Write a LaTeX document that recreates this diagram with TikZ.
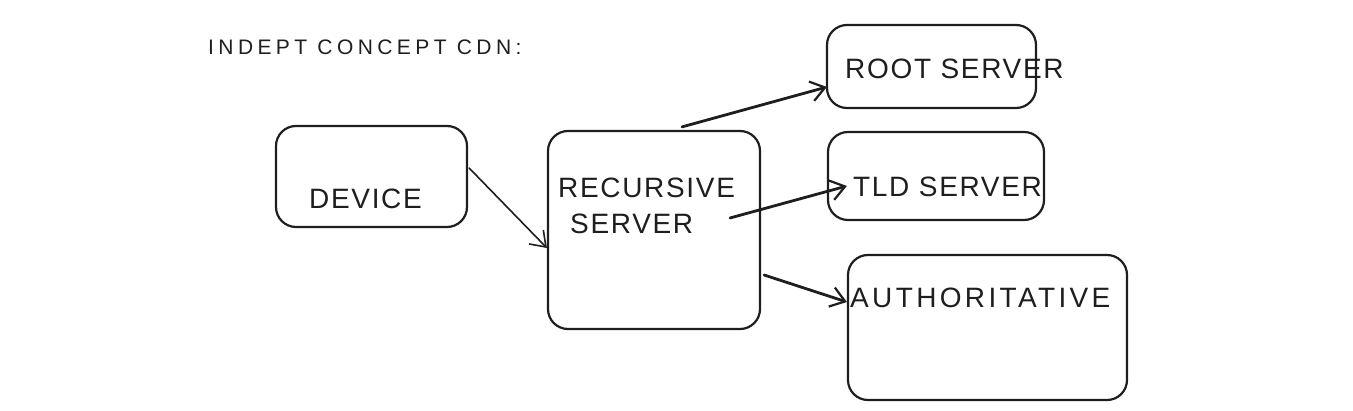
\documentclass[tikz,border=0pt]{standalone}
\usepackage{fontspec}
\setmainfont{Liberation Sans}
\newfontfamily\lblfont[LetterSpace=6]{Liberation Sans}
\newfontfamily\widelblfont[LetterSpace=12]{Liberation Sans}
\newfontfamily\ttlfont[LetterSpace=21]{Liberation Sans}
\usetikzlibrary{arrows.meta,calc}
\definecolor{ink}{HTML}{1E1E1E}
\tikzset{
  box/.style={draw=ink, line width=2.2pt, rounded corners=20pt, inner sep=0pt},
  lbl/.style={inner sep=0pt, text=ink, font=\lblfont\fontsize{28}{30}\selectfont, text height=20pt, text depth=0pt, anchor=west},
  widelbl/.style={lbl, font=\widelblfont\fontsize{28}{30}\selectfont},
  ttl/.style={inner sep=0pt, text=ink, font=\ttlfont\fontsize{21}{24}\selectfont, text height=15pt, text depth=0pt, anchor=west},
  arr/.style={draw=ink, line width=2.8pt, line cap=round, -{Straight Barb[length=14pt,width=20pt,line width=2.2pt]}},
  thinarr/.style={draw=ink, line width=1.6pt, line cap=round, -{Straight Barb[length=14pt,width=20pt,line width=1.6pt]}}
}
\begin{document}
\begin{tikzpicture}[x=1pt,y=-1pt]
\useasboundingbox (0,0) rectangle (1353,411);
% boxes
\node[box, minimum width=191pt, minimum height=101pt] (dev) at (371.5,176.5) {};
\node[box, minimum width=212pt, minimum height=198pt] (rec) at (654,230) {};
\node[box, minimum width=209pt, minimum height=83pt] (root) at (931.5,66.5) {};
\node[box, minimum width=216pt, minimum height=88pt] (tld) at (936,176) {};
\node[box, minimum width=279pt, minimum height=145pt] (auth) at (987.5,327.5) {};
% texts
\node[ttl] (title) at (208,47) {INDEPT CONCEPT CDN:};
\node[lbl] (devt) at (309,199) {DEVICE};
\node[lbl] (rect1) at (558,188) {RECURSIVE};
\node[lbl] (rect2) at (570,224) {SERVER};
\node[lbl] (roott) at (845,69) {ROOT SERVER};
\node[lbl] (tldt) at (853,187) {TLD SERVER};
\node[widelbl] (autht) at (850,298) {AUTHORITATIVE};
% connectors
\draw[thinarr] ($(dev.east)+(1,-8.5)$) -- ($(rec.west)+(0,18)$);
\draw[arr] ($(rec.north)+(28,-3)$) -- ($(root.west)+(1,20.5)$);
\draw[arr] ($(rec.center)+(76,-12)$) -- ($(tld.west)+(20,10)$);
\draw[arr] ($(rec.east)+(3,45)$) -- ($(auth.west)+(0,-25.5)$);
\end{tikzpicture}
\end{document}
